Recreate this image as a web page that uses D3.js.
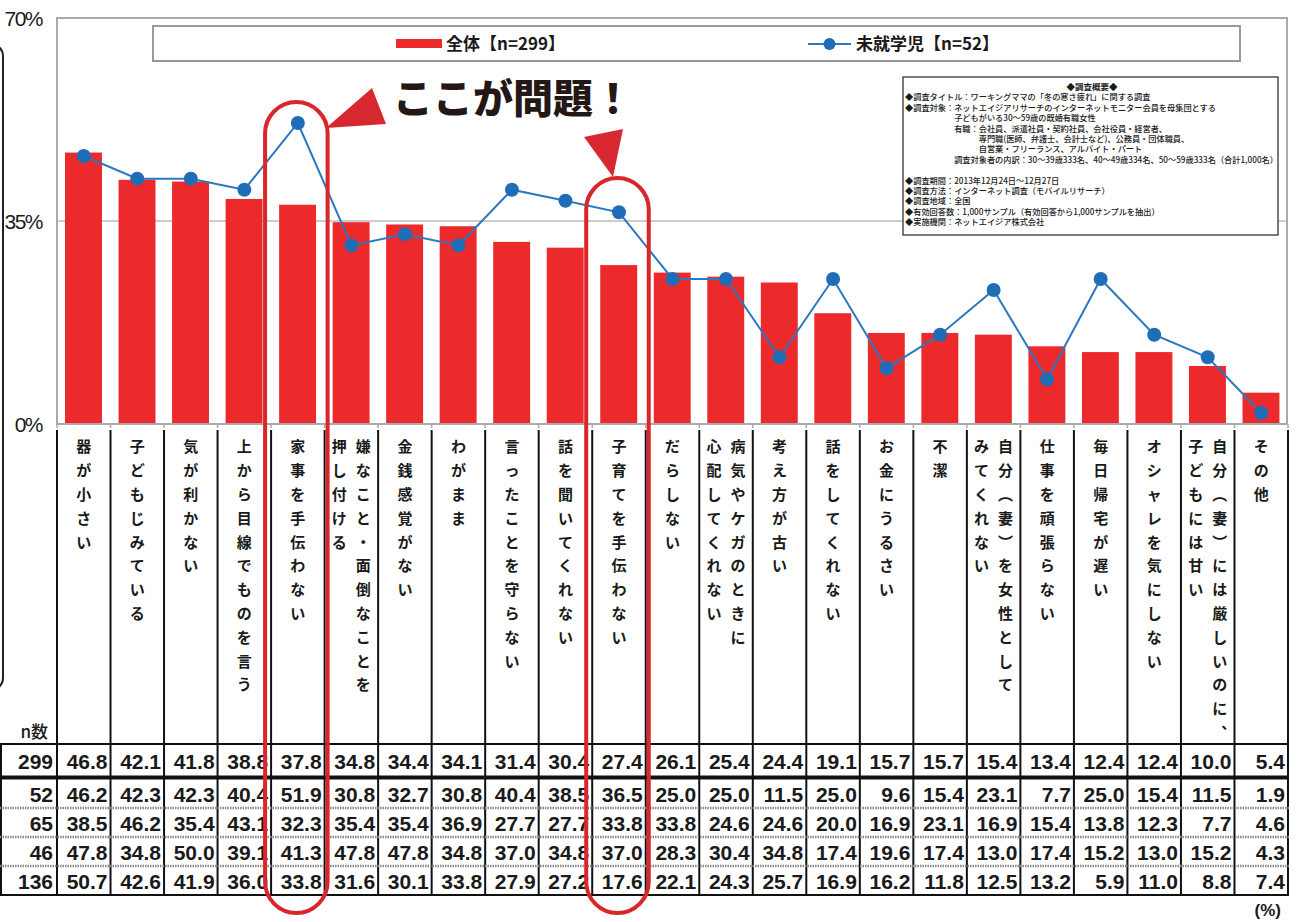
<!DOCTYPE html>
<html>
<head>
<meta charset="utf-8">
<script src="https://cdnjs.cloudflare.com/ajax/libs/d3/7.8.5/d3.min.js"></script>
<style>
  body { margin: 0; background: #fff; }
  svg { display: block; }
  .jp { font-family: "Noto Sans CJK JP", "Noto Sans", sans-serif; }
  .num { font-family: "Liberation Sans", Arial, sans-serif; }
</style>
</head>
<body>
<div id="chart"></div>
<script>
// categories (each entry = vertical text columns, first one drawn on the right)
var categories = [
  ["器が小さい"],
  ["子どもじみている"],
  ["気が利かない"],
  ["上から目線でものを言う"],
  ["家事を手伝わない"],
  ["嫌なこと・面倒なことを", "押し付ける"],
  ["金銭感覚がない"],
  ["わがまま"],
  ["言ったことを守らない"],
  ["話を聞いてくれない"],
  ["子育てを手伝わない"],
  ["だらしない"],
  ["病気やケガのときに", "心配してくれない"],
  ["考え方が古い"],
  ["話をしてくれない"],
  ["お金にうるさい"],
  ["不潔"],
  ["自分（妻）を女性として", "みてくれない"],
  ["仕事を頑張らない"],
  ["毎日帰宅が遅い"],
  ["オシャレを気にしない"],
  ["自分（妻）には厳しいのに、", "子どもには甘い"],
  ["その他"]
];

// series values (%)
var totalVals     = [46.8, 42.1, 41.8, 38.8, 37.8, 34.8, 34.4, 34.1, 31.4, 30.4, 27.4, 26.1, 25.4, 24.4, 19.1, 15.7, 15.7, 15.4, 13.4, 12.4, 12.4, 10.0, 5.4];
var preschoolVals = [46.2, 42.3, 42.3, 40.4, 51.9, 30.8, 32.7, 30.8, 40.4, 38.5, 36.5, 25.0, 25.0, 11.5, 25.0, 9.6, 15.4, 23.1, 7.7, 25.0, 15.4, 11.5, 1.9];
var row3Vals      = [38.5, 46.2, 35.4, 43.1, 32.3, 35.4, 35.4, 36.9, 27.7, 27.7, 33.8, 33.8, 24.6, 24.6, 20.0, 16.9, 23.1, 16.9, 15.4, 13.8, 12.3, 7.7, 4.6];
var row4Vals      = [47.8, 34.8, 50.0, 39.1, 41.3, 47.8, 47.8, 34.8, 37.0, 34.8, 37.0, 28.3, 30.4, 34.8, 17.4, 19.6, 17.4, 13.0, 17.4, 15.2, 13.0, 15.2, 4.3];
var row5Vals      = [50.7, 42.6, 41.9, 36.0, 33.8, 31.6, 30.1, 33.8, 27.9, 27.2, 17.6, 22.1, 24.3, 25.7, 16.9, 16.2, 11.8, 12.5, 13.2, 5.9, 11.0, 8.8, 7.4];

var nValues = [299, 52, 65, 46, 136];
var yTicks = [0, 35, 70];

var legendLabels = ["全体【n=299】", "未就学児【n=52】"];

var noteLines = [
  "◆調査タイトル：ワーキングママの「冬の寒さ疲れ」に関する調査",
  "◆調査対象：ネットエイジアリサーチのインターネットモニター会員を母集団とする",
  "　　　　　　子どもがいる30～59歳の既婚有職女性",
  "　　　　　　有職：会社員、派遣社員・契約社員、会社役員・経営者、",
  "　　　　　　　　　専門職(医師、弁護士、会計士など)、公務員・団体職員、",
  "　　　　　　　　　自営業・フリーランス、アルバイト・パート",
  "　　　　　　調査対象者の内訳：30～39歳333名、40～49歳334名、50～59歳333名（合計1,000名）",
  "",
  "◆調査期間：2013年12月24日～12月27日",
  "◆調査方法：インターネット調査（モバイルリサーチ）",
  "◆調査地域：全国",
  "◆有効回答数：1,000サンプル（有効回答から1,000サンプルを抽出）",
  "◆実施機関：ネットエイジア株式会社"
];

var W = 1303, H = 922;
var red = "#ed2a2b", blue = "#2a78c0", dark = "#1a1a1a";

var svg = d3.select("#chart").append("svg")
    .attr("width", W)
    .attr("height", H);

var idx = d3.range(categories.length);

var x = d3.scaleBand()
    .domain(idx)
    .range([57, 1288])
    .padding(0);
var bw = x.bandwidth();

var y = d3.scaleLinear()
    .domain([0, 70])
    .range([424, 18]);

// left clipped rounded frame
svg.append("rect")
    .attr("x", -30).attr("y", 44)
    .attr("width", 33).attr("height", 646)
    .attr("rx", 12)
    .attr("fill", "none")
    .attr("stroke", "#222")
    .attr("stroke-width", 2);

// plot frame
svg.append("rect")
    .attr("x", 57).attr("y", y(70))
    .attr("width", 1287 - 57).attr("height", y(0) - y(70))
    .attr("fill", "#fff")
    .attr("stroke", "#aaa")
    .attr("stroke-width", 2);

// gridline 35%
svg.append("line")
    .attr("x1", 57).attr("x2", 1287)
    .attr("y1", y(35)).attr("y2", y(35))
    .attr("stroke", "#bbb")
    .attr("stroke-width", 1.5);

// y labels
svg.selectAll(".ylab")
    .data(yTicks)
  .enter().append("text")
    .attr("class", "num")
    .attr("x", 42)
    .attr("y", function(d) { return y(d); })
    .attr("dy", "0.36em")
    .attr("text-anchor", "end")
    .attr("font-size", 21)
    .attr("letter-spacing", "-1.5px")
    .attr("fill", dark)
    .text(function(d) { return d + "%"; });

// bars
svg.selectAll(".bar")
    .data(totalVals)
  .enter().append("rect")
    .attr("class", "bar")
    .attr("x", function(d, i) { return x(i) + bw * 0.15; })
    .attr("width", bw * 0.69)
    .attr("y", function(d) { return y(d); })
    .attr("height", function(d) { return y(0) - y(d); })
    .attr("fill", red);

// bottom ticks
svg.selectAll(".tick")
    .data(d3.range(categories.length + 1))
  .enter().append("line")
    .attr("x1", function(d) { return 57 + d * bw; })
    .attr("x2", function(d) { return 57 + d * bw; })
    .attr("y1", y(0)).attr("y2", y(0) + 4)
    .attr("stroke", "#aaa")
    .attr("stroke-width", 1.5);

svg.append("line")
    .attr("x1", 57).attr("x2", 1287)
    .attr("y1", y(0)).attr("y2", y(0))
    .attr("stroke", "#aaa")
    .attr("stroke-width", 2);

// line series
var line = d3.line()
    .x(function(d, i) { return x(i) + bw / 2; })
    .y(function(d) { return y(d); });

svg.append("path")
    .datum(preschoolVals)
    .attr("d", line)
    .attr("fill", "none")
    .attr("stroke", blue)
    .attr("stroke-width", 2);

svg.selectAll(".dot")
    .data(preschoolVals)
  .enter().append("circle")
    .attr("cx", function(d, i) { return x(i) + bw / 2; })
    .attr("cy", function(d) { return y(d); })
    .attr("r", 7)
    .attr("fill", "#1f6db6");

// legend
svg.append("rect")
    .attr("x", 153).attr("y", 26)
    .attr("width", 1087).attr("height", 35)
    .attr("fill", "#fff")
    .attr("stroke", "#999")
    .attr("stroke-width", 2);
svg.append("rect")
    .attr("x", 396).attr("y", 39)
    .attr("width", 46).attr("height", 9)
    .attr("fill", red);
svg.append("text")
    .attr("class", "jp")
    .attr("x", 446).attr("y", 44)
    .attr("dy", "0.36em")
    .attr("font-size", 17)
    .attr("font-weight", 700)
    .attr("fill", dark)
    .text(legendLabels[0]);
svg.append("line")
    .attr("x1", 808).attr("x2", 851)
    .attr("y1", 44).attr("y2", 44)
    .attr("stroke", blue)
    .attr("stroke-width", 2);
svg.append("circle")
    .attr("cx", 829.5).attr("cy", 44)
    .attr("r", 6)
    .attr("fill", "#1f6db6");
svg.append("text")
    .attr("class", "jp")
    .attr("x", 856).attr("y", 44)
    .attr("dy", "0.36em")
    .attr("font-size", 17)
    .attr("font-weight", 700)
    .attr("fill", dark)
    .text(legendLabels[1]);

// survey note box
svg.append("rect")
    .attr("x", 903).attr("y", 77)
    .attr("width", 375).attr("height", 158)
    .attr("fill", "#fff")
    .attr("stroke", "#222")
    .attr("stroke-width", 1.2);
svg.append("text")
    .attr("class", "jp")
    .attr("x", 1092).attr("y", 87)
    .attr("dy", "0.36em")
    .attr("text-anchor", "middle")
    .attr("font-size", 8.5)
    .attr("font-weight", 700)
    .attr("fill", dark)
    .text("◆調査概要◆");
svg.selectAll(".note")
    .data(noteLines)
  .enter().append("text")
    .attr("class", "jp")
    .attr("x", 905)
    .attr("y", function(d, i) { return 97.5 + i * 10.4; })
    .attr("dy", "0.36em")
    .attr("font-size", 8.2)
    .attr("font-weight", 500)
    .attr("fill", dark)
    .attr("xml:space", "preserve")
    .style("white-space", "pre")
    .text(function(d) { return d; });

// callout
svg.append("text")
    .attr("class", "jp")
    .attr("x", 393).attr("y", 99)
    .attr("dy", "0.36em")
    .attr("font-size", 40)
    .attr("font-weight", 900)
    .attr("fill", "#231815")
    .text("ここが問題！");
svg.append("path")
    .attr("d", "M326,128 L372,88 L386,124 Z")
    .attr("fill", "#d7282f");
svg.append("path")
    .attr("d", "M584,137 L623,129 L613,177 Z")
    .attr("fill", "#d7282f");

// table: category label area and rows
var tableBottom = 895;
svg.selectAll(".vdiv")
    .data(d3.range(categories.length + 1))
  .enter().append("line")
    .attr("x1", function(d) { return 57 + d * bw; })
    .attr("x2", function(d) { return 57 + d * bw; })
    .attr("y1", 430).attr("y2", tableBottom)
    .attr("stroke", "#111")
    .attr("stroke-width", 2);

svg.append("line")
    .attr("x1", 1).attr("x2", 1)
    .attr("y1", 744).attr("y2", tableBottom)
    .attr("stroke", "#111").attr("stroke-width", 2);

var vertMap = { "（": "︵", "）": "︶", "、": "︑" };
categories.forEach(function(cols, i) {
  var cx = x(i) + bw / 2;
  cols.forEach(function(str, k) {
    var off = cols.length === 1 ? 0 : (k === 0 ? 12 : -12);
    Array.from(str).forEach(function(ch, j) {
      svg.append("text")
        .attr("class", "jp")
        .attr("x", cx + off)
        .attr("y", 447 + j * 23.8)
        .attr("dy", "0.36em")
        .attr("text-anchor", "middle")
        .attr("font-size", 15)
        .attr("font-weight", 700)
        .attr("fill", dark)
        .text(vertMap[ch] || ch);
    });
  });
});

svg.append("text")
    .attr("class", "jp")
    .attr("x", 48).attr("y", 732)
    .attr("dy", "0.36em")
    .attr("text-anchor", "end")
    .attr("font-size", 17)
    .attr("font-weight", 500)
    .attr("fill", dark)
    .text("n数");

var rowTops = [744, 778, 808, 837, 866];
var rowBottoms = [776, 808, 837, 866, 895];
var rows = [totalVals, preschoolVals, row3Vals, row4Vals, row5Vals];

// horizontal rules
svg.append("line").attr("x1", 0).attr("x2", 1289).attr("y1", 744).attr("y2", 744)
    .attr("stroke", "#111").attr("stroke-width", 2);
svg.append("line").attr("x1", 0).attr("x2", 1289).attr("y1", 777.5).attr("y2", 777.5)
    .attr("stroke", "#111").attr("stroke-width", 4);
[808, 837, 866].forEach(function(yy) {
  svg.append("line").attr("x1", 0).attr("x2", 1289).attr("y1", yy).attr("y2", yy)
      .attr("stroke", "#8a8a8a").attr("stroke-width", 2.5)
      .attr("stroke-dasharray", "1.5,1");
});
svg.append("line").attr("x1", 0).attr("x2", 1289).attr("y1", tableBottom).attr("y2", tableBottom)
    .attr("stroke", "#111").attr("stroke-width", 2);

rows.forEach(function(vals, r) {
  var cy = (rowTops[r] + rowBottoms[r]) / 2 + 1;
  svg.append("text")
      .attr("class", "num")
      .attr("x", 53).attr("y", cy)
      .attr("dy", "0.36em")
      .attr("text-anchor", "end")
      .attr("font-size", 21)
      .attr("font-weight", 700)
      .attr("fill", dark)
      .text(nValues[r]);
  vals.forEach(function(v, i) {
    svg.append("text")
        .attr("class", "num")
        .attr("x", x(i) + bw - 3).attr("y", cy)
        .attr("dy", "0.36em")
        .attr("text-anchor", "end")
        .attr("font-size", 21)
        .attr("font-weight", 700)
        .attr("fill", dark)
        .text(d3.format(".1f")(v));
  });
});

svg.append("text")
    .attr("class", "num")
    .attr("x", 1281).attr("y", 910)
    .attr("dy", "0.36em")
    .attr("text-anchor", "end")
    .attr("font-size", 17)
    .attr("font-weight", 700)
    .attr("fill", dark)
    .text("(%)");

// highlight outlines
function highlight(i, topVal) {
  var x0 = x(i) - 6, x1 = x(i) + bw + 3;
  var top = y(topVal);
  svg.append("rect")
      .attr("x", x0).attr("y", top)
      .attr("width", x1 - x0).attr("height", 913 - top)
      .attr("rx", (x1 - x0) / 2)
      .attr("fill", "none")
      .attr("stroke", "#d9262b")
      .attr("stroke-width", 4);
}
highlight(4, 55.5);
highlight(10, 42.4);
</script>
</body>
</html>
